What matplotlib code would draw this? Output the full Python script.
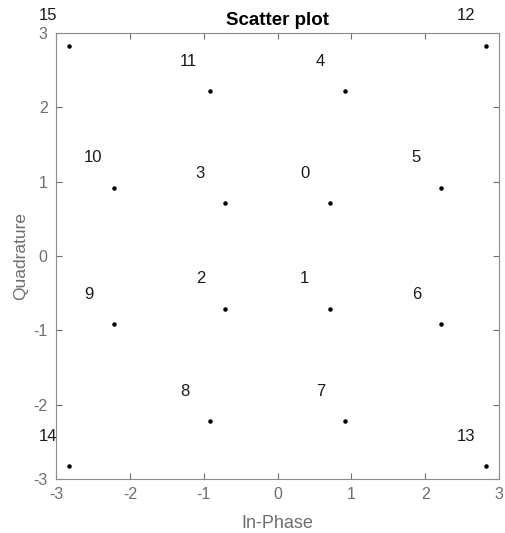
import matplotlib.pyplot as plt
import numpy as np

plt.rcParams['font.family'] = ['Liberation Sans', 'DejaVu Sans']
plt.rcParams['axes.unicode_minus'] = False

# 16-APSK style constellation (symbol index -> in-phase / quadrature)
symbols = list(range(16))
in_phase = [0.707, 0.707, -0.707, -0.707,
            0.92, 2.22, 2.22, 0.92, -0.92, -2.22, -2.22, -0.92,
            2.83, 2.83, -2.83, -2.83]
quadrature = [0.707, -0.707, -0.707, 0.707,
              2.22, 0.92, -0.92, -2.22, -2.22, -0.92, 0.92, 2.22,
              2.83, -2.83, -2.83, 2.83]
ticks = [-3, -2, -1, 0, 1, 2, 3]

fig = plt.figure(figsize=(5.05, 5.33), dpi=100)
ax = fig.add_axes([56 / 505, 54 / 533, 443 / 505, 446 / 533])

grey = '#6e6e6e'
ax.scatter(in_phase, quadrature, s=5, color='black', zorder=3)

for k, x, y in zip(symbols, in_phase, quadrature):
    ax.text(x - 0.4, y + 0.4, str(k), fontsize=12, ha='left', va='center',
            color='#1a1a1a', clip_on=False)

ax.set_xlim(-3, 3)
ax.set_ylim(-3, 3)
ax.set_xticks(ticks)
ax.set_yticks(ticks)
ax.tick_params(direction='in', length=4, width=0.8, colors=grey,
               labelsize=11.5, top=True, right=True, pad=6)
for s in ax.spines.values():
    s.set_color('#8c8c8c')
    s.set_linewidth(0.8)

ax.set_title('Scatter plot', fontsize=13.5, fontweight='bold', pad=6)
ax.set_xlabel('In-Phase', fontsize=13, color=grey, labelpad=9)
ax.set_ylabel('Quadrature', fontsize=12.5, color=grey, labelpad=4)

fig.savefig('out.png', dpi=100)
